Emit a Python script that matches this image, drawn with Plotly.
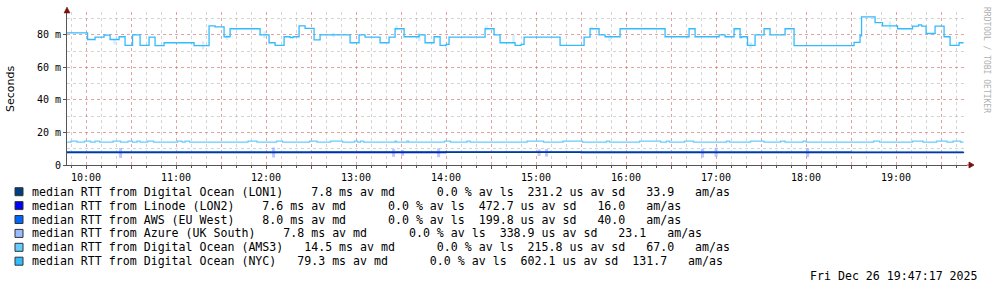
import plotly.graph_objects as go

DAY = "2025-12-26"

# ---------------- data ----------------
series_names = [
    "median RTT from Digital Ocean (LON1)",
    "median RTT from Linode (LON2)",
    "median RTT from AWS (EU West)",
    "median RTT from Azure (UK South)",
    "median RTT from Digital Ocean (AMS3)",
    "median RTT from Digital Ocean (NYC)",
]
series_colors = ["#004080", "#0000FF", "#0066FF", "#99BBFF", "#66CCFF", "#33BBFF"]
med_ms = [7.8, 7.6, 8.0, 7.8, 14.5, 79.3]
loss_pct = [0.0, 0.0, 0.0, 0.0, 0.0, 0.0]
sd_us = [231.2, 472.7, 199.8, 338.9, 215.8, 602.1]
am_as = [33.9, 16.0, 40.0, 23.1, 67.0, 131.7]

nyc_times = ["09:47", "10:01", "10:06", "10:12", "10:16", "10:22", "10:26", "10:31", "10:36",
             "10:42", "10:46", "10:52", "11:12", "11:22", "11:26", "11:32", "11:36", "11:56",
             "12:02", "12:06", "12:12", "12:16", "12:18", "12:22", "12:26", "12:32", "12:36",
             "12:56", "13:02", "13:06", "13:16", "13:22", "13:26", "13:32", "13:42", "13:46",
             "13:52", "13:56", "14:00", "14:02", "14:26", "14:32", "14:36", "14:46", "14:50",
             "14:52", "15:16", "15:32", "15:36", "15:42", "15:46", "15:56", "16:26", "16:42",
             "16:46", "17:02", "17:06", "17:12", "17:16", "17:17", "17:21", "17:26", "17:32",
             "17:36", "17:46", "17:52", "18:32", "18:36", "18:37", "18:46", "18:51", "19:01",
             "19:11", "19:15", "19:17", "19:20", "19:26", "19:32", "19:36", "19:42", "19:45"]
nyc_ms = [81.2, 77.1, 78.6, 79.8, 77.1, 78.8, 73.5, 80.0, 73.5,
          78.6, 73.3, 75.1, 73.3, 85.5, 84.9, 78.8, 83.7, 80.0,
          75.1, 73.5, 78.8, 78.2, 78.8, 85.5, 83.9, 76.9, 80.0,
          75.1, 80.0, 78.6, 75.1, 78.6, 83.7, 78.8, 80.0, 75.1,
          78.8, 73.5, 74.1, 78.6, 83.7, 80.0, 75.1, 73.5, 74.1,
          78.6, 73.5, 78.6, 83.7, 80.0, 78.8, 83.7, 78.8, 83.7,
          78.8, 80.0, 78.8, 83.7, 78.2, 78.8, 73.5, 80.0, 83.7,
          80.0, 83.7, 73.3, 75.3, 79.4, 91.0, 87.5, 85.5, 83.7,
          85.3, 86.1, 85.3, 80.8, 85.3, 78.8, 73.5, 75.1, 75.1]

ams3_times = ["09:47", "09:50", "09:54", "09:59", "10:03", "10:06", "10:09", "10:18", "10:23",
              "10:28", "10:31", "10:34", "10:36", "10:41", "10:45", "11:01", "11:04", "11:06",
              "11:09", "11:48", "11:54", "12:07", "12:11", "12:29", "12:34", "12:43", "12:51",
              "12:59", "13:01", "13:03", "13:05", "13:26", "13:27", "13:34", "13:35", "13:59",
              "14:03", "14:14", "14:16", "14:54", "15:05", "15:18", "15:31", "15:47", "15:49",
              "16:09", "16:23", "16:27", "16:29", "16:39", "16:45", "17:07", "17:09", "17:23",
              "17:32", "17:43", "17:46", "17:58", "18:00", "18:45", "18:49", "19:11", "19:18",
              "19:27", "19:34", "19:38", "19:43", "19:45"]
ams3_ms = [14.1, 14.7, 14.1, 14.7, 14.1, 14.7, 14.1, 14.7, 14.1,
           14.7, 14.1, 14.7, 14.1, 14.7, 14.1, 14.7, 14.1, 14.7,
           14.1, 14.7, 14.1, 14.7, 14.1, 14.7, 14.1, 14.7, 14.1,
           14.7, 14.1, 14.7, 14.1, 14.7, 14.1, 14.7, 14.1, 14.7,
           14.1, 14.7, 14.1, 14.7, 14.1, 14.7, 14.1, 14.7, 14.1,
           14.7, 14.1, 14.7, 14.1, 14.7, 14.1, 14.7, 14.1, 14.7,
           14.1, 14.7, 14.1, 14.7, 14.1, 14.7, 14.1, 14.7, 14.1,
           14.7, 14.1, 14.7, 14.1, 14.1]

low_times = ["09:47", "11:00", "12:30", "14:00", "15:30", "17:00", "18:30", "19:45"]
lon1_ms = [7.8, 7.8, 7.9, 7.8, 7.8, 7.7, 7.8, 7.8]
lon2_ms = [7.6, 7.6, 7.6, 7.7, 7.6, 7.6, 7.6, 7.6]
aws_ms = [8.0, 8.0, 8.1, 8.0, 8.0, 8.0, 7.9, 8.0]
azure_ms = [7.8, 7.9, 7.8, 7.8, 7.9, 7.8, 7.8, 7.8]

azure_spike_times = ["10:23", "12:05", "13:25", "13:31", "13:55", "15:02", "15:07", "16:51", "17:00", "18:01"]
azure_spike_lo = [4.3, 4.6, 5.0, 5.6, 4.8, 5.6, 5.2, 4.6, 5.0, 4.8]
azure_spike_hi = [10.4, 10.8, 9.8, 9.2, 10.2, 9.6, 9.8, 10.0, 10.6, 10.4]

nyc_spike_times = ["10:19", "11:18", "11:34", "11:59", "12:45", "13:27", "13:42", "14:00",
                   "14:27", "14:45", "15:37", "15:49", "16:41", "17:13", "17:23", "18:56"]
nyc_spike_lo = [74.1, 71.0, 76.9, 78.0, 78.6, 83.2, 76.1, 71.5, 83.2, 74.5, 83.2, 76.1, 77.7, 82.2, 71.5, 83.2]
nyc_spike_hi = [77.1, 76.1, 80.0, 82.2, 81.2, 85.7, 81.2, 73.5, 85.7, 79.8, 85.0, 80.2, 79.8, 84.3, 75.5, 88.3]

y_tick_vals = [0, 20, 40, 60, 80]
y_tick_text = ["0", "20 m", "40 m", "60 m", "80 m"]
x_tick_times = ["10:00", "10:30", "11:00", "11:30", "12:00", "12:30", "13:00", "13:30", "14:00",
                "14:30", "15:00", "15:30", "16:00", "16:30", "17:00", "17:30", "18:00", "18:30",
                "19:00", "19:30"]
x_tick_text = ["10:00", "", "11:00", "", "12:00", "", "13:00", "", "14:00",
               "", "15:00", "", "16:00", "", "17:00", "", "18:00", "", "19:00", ""]
stamp = "Fri Dec 26 19:47:17 2025"


def ts(hm):
    return f"{DAY} {hm}:00"


# ---------------- layout geometry (pixels) ----------------
W, H = 997, 289
L, R, T, B = 67, 30, 12, 124
PW = W - L - R
PH = H - T - B


def px(xp):
    return (xp - L) / PW


def py(yp):
    return (H - B - yp) / PH


MONO = "DejaVu Sans Mono"

fig = go.Figure()


def spikes(times, lo, hi):
    xs, ys = [], []
    for t, a, b in zip(times, lo, hi):
        xs += [ts(t), ts(t), None]
        ys += [a, b, None]
    return xs, ys


sx, sy = spikes(nyc_spike_times, nyc_spike_lo, nyc_spike_hi)
fig.add_trace(go.Scatter(x=sx, y=sy, mode="lines", line=dict(color="rgba(51,187,255,0.22)", width=2.5),
                         hoverinfo="skip", showlegend=False))
sx, sy = spikes(azure_spike_times, azure_spike_lo, azure_spike_hi)
fig.add_trace(go.Scatter(x=sx, y=sy, mode="lines", line=dict(color="rgba(150,160,255,0.6)", width=3),
                         hoverinfo="skip", showlegend=False))

low_sets = [(azure_ms, series_colors[3]), (aws_ms, series_colors[2]),
            (lon2_ms, series_colors[1]), (lon1_ms, series_colors[0])]
for vals, col in low_sets:
    fig.add_trace(go.Scatter(x=[ts(t) for t in low_times], y=vals, mode="lines",
                             line=dict(color=col, width=1.3, shape="hv"), showlegend=False))

fig.add_trace(go.Scatter(x=[ts(t) for t in ams3_times], y=ams3_ms, mode="lines",
                         line=dict(color=series_colors[4], width=1.3, shape="hv"), showlegend=False))
fig.add_trace(go.Scatter(x=[ts(t) for t in nyc_times], y=nyc_ms, mode="lines",
                         line=dict(color=series_colors[5], width=1.3, shape="hv"), showlegend=False))

major_grid = "rgba(240,90,90,0.4)"
minor_grid = "rgba(160,160,160,0.45)"
axis_col = "#555555"

fig.update_layout(
    width=W, height=H,
    margin=dict(l=L, r=R, t=T, b=B, pad=0),
    paper_bgcolor="white", plot_bgcolor="white",
    font=dict(family=MONO, size=10, color="black"),
    xaxis=dict(
        type="date",
        range=[f"{DAY} 09:47:17", f"{DAY} 19:47:17"],
        tickmode="array",
        tickvals=[ts(t) for t in x_tick_times],
        ticktext=x_tick_text,
        showgrid=True, gridcolor=major_grid, griddash="dot", gridwidth=1,
        minor=dict(dtick=600000, tick0=f"{DAY} 10:00:00", showgrid=True,
                   gridcolor=minor_grid, griddash="dot", gridwidth=1,
                   ticks="outside", ticklen=2, tickcolor=axis_col),
        ticks="outside", ticklen=3, tickcolor=axis_col,
        showline=True, linecolor=axis_col, linewidth=1,
        zeroline=False, fixedrange=True,
        tickfont=dict(family=MONO, size=10, color="black"),
    ),
    yaxis=dict(
        range=[0, 94],
        tickmode="array", tickvals=y_tick_vals, ticktext=y_tick_text,
        showgrid=True, gridcolor=major_grid, griddash="dot", gridwidth=1,
        minor=dict(dtick=10, tick0=0, showgrid=True, gridcolor=minor_grid,
                   griddash="dot", gridwidth=1),
        ticks="outside", ticklen=3, tickcolor=axis_col,
        showline=True, linecolor=axis_col, linewidth=1,
        zeroline=False, fixedrange=True,
        tickfont=dict(family=MONO, size=10, color="black"),
    ),
)

arrow_col = "#7A1010"
fig.add_shape(type="path", xref="paper", yref="paper", xsizemode="pixel", ysizemode="pixel",
              xanchor=0, yanchor=1, path="M -3,-1 L 3,-1 L 0,5 Z",
              fillcolor=arrow_col, line=dict(color=arrow_col, width=0.5))
fig.add_shape(type="path", xref="paper", yref="paper", xsizemode="pixel", ysizemode="pixel",
              xanchor=1, yanchor=0, path="M 0,0 L 2,0 M 2,-3 L 2,3 L 7,0 Z",
              fillcolor=arrow_col, line=dict(color=arrow_col, width=0.8))

# y-axis title
fig.add_annotation(text="Seconds", xref="paper", yref="paper", x=px(10), y=py(89),
                   textangle=-90, showarrow=False, xanchor="center", yanchor="middle",
                   font=dict(family="DejaVu Sans", size=11, color="black"))
# watermark
fig.add_annotation(text="RRDTOOL / TOBI OETIKER", xref="paper", yref="paper", x=px(987), y=py(60),
                   textangle=90, showarrow=False, xanchor="center", yanchor="middle",
                   font=dict(family=MONO, size=8, color="#B0B0B0"))

# legend
row_y = [191.7, 205.6, 219.5, 233.4, 247.3, 261.2]
for i, name in enumerate(series_names):
    txt = f"{name}{med_ms[i]:7.1f} ms av md{loss_pct[i]:9.1f} % av ls{sd_us[i]:7.1f} us av sd{am_as[i]:7.1f}   am/as"
    fig.add_annotation(text=txt.replace(" ", "&nbsp;"), xref="paper", yref="paper",
                       x=px(30), y=py(row_y[i]), xanchor="left", yanchor="middle",
                       showarrow=False, font=dict(family=MONO, size=11.6, color="black"))
    fig.add_shape(type="rect", xref="paper", yref="paper",
                  x0=px(15), x1=px(23), y0=py(row_y[i] + 4), y1=py(row_y[i] - 4),
                  fillcolor=series_colors[i], line=dict(color="#333333", width=1))

fig.add_annotation(text=stamp, xref="paper", yref="paper", x=px(980), y=py(275.5),
                   xanchor="right", yanchor="middle", showarrow=False,
                   font=dict(family=MONO, size=11.6, color="black"))

fig.write_html("out.html")
